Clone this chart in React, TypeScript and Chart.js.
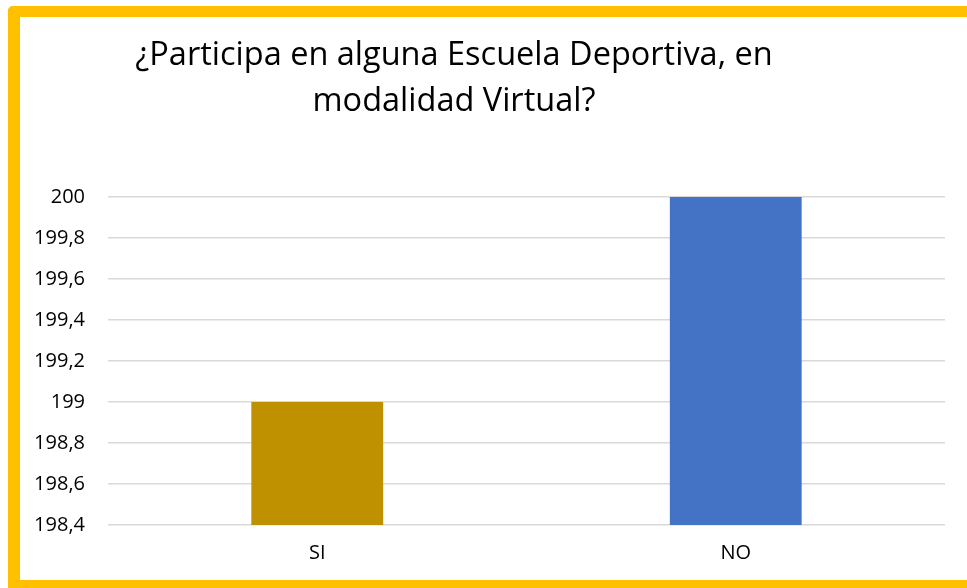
import React, { useEffect, useRef } from "react";
import { Chart, registerables } from "chart.js";

Chart.register(...registerables);

const TITLE_LINES = ["¿Participa en alguna Escuela Deportiva, en", "modalidad Virtual?"];
const CATEGORIES = ["SI", "NO"];
const VALUES = [199, 200];
const BAR_COLORS = ["#BF9000", "#4472C4"];
const Y_MIN = 198.4;
const Y_MAX = 200;
const Y_STEP = 0.2;

const FONT = "'Open Sans', 'DejaVu Sans', sans-serif";

function formatTick(v: number): string {
  const r = Math.round(v * 10) / 10;
  return String(r).replace(".", ",");
}

export default function App() {
  const canvasRef = useRef<HTMLCanvasElement | null>(null);

  useEffect(() => {
    document.body.style.margin = "0";
    document.body.style.background = "#ffffff";
    const canvas = canvasRef.current;
    if (!canvas) return;
    const chart = new Chart(canvas, {
      type: "bar",
      data: {
        labels: CATEGORIES,
        datasets: [
          {
            data: VALUES,
            backgroundColor: BAR_COLORS,
            borderWidth: 0,
            barPercentage: 0.315,
            categoryPercentage: 1,
          },
        ],
      },
      options: {
        animation: false,
        responsive: false,
        maintainAspectRatio: false,
        layout: { padding: { top: 180, right: 22, left: 0, bottom: 0 } },
        plugins: {
          legend: { display: false },
          title: { display: false },
          tooltip: { enabled: false },
        },
        scales: {
          x: {
            grid: { display: false, drawTicks: false },
            border: { display: false },
            ticks: {
              color: "#000000",
              font: { family: FONT, size: 20 },
              padding: 16,
            },
            afterFit: (s: any) => {
              s.height = 55;
            },
          },
          y: {
            min: Y_MIN,
            max: Y_MAX,
            grid: { color: "#D9D9D9", lineWidth: 1.5, drawTicks: false },
            border: { display: false },
            ticks: {
              stepSize: Y_STEP,
              color: "#000000",
              font: { family: FONT, size: 20 },
              padding: 23,
              callback: (v: any) => formatTick(Number(v)),
            },
            afterFit: (s: any) => {
              s.width = 88;
            },
          },
        },
      },
    });
    return () => chart.destroy();
  }, []);

  return (
    <div
      style={{
        position: "absolute",
        left: 8,
        top: 6,
        width: 947,
        height: 563,
        borderTop: "11px solid #FFC000",
        borderLeft: "12px solid #FFC000",
        borderBottom: "8px solid #FFC000",
        borderTopLeftRadius: 5,
        background: "#ffffff",
      }}
    >
      <canvas ref={canvasRef} width={947} height={563} style={{ display: "block" }} />
      <div
        style={{
          position: "absolute",
          left: 0,
          top: 13,
          width: 868,
          textAlign: "center",
          fontFamily: FONT,
          fontSize: 32.5,
          lineHeight: "46px",
          color: "#000000",
          whiteSpace: "nowrap",
        }}
      >
        {TITLE_LINES.map((l, i) => (
          <div key={i}>{l}</div>
        ))}
      </div>
    </div>
  );
}
